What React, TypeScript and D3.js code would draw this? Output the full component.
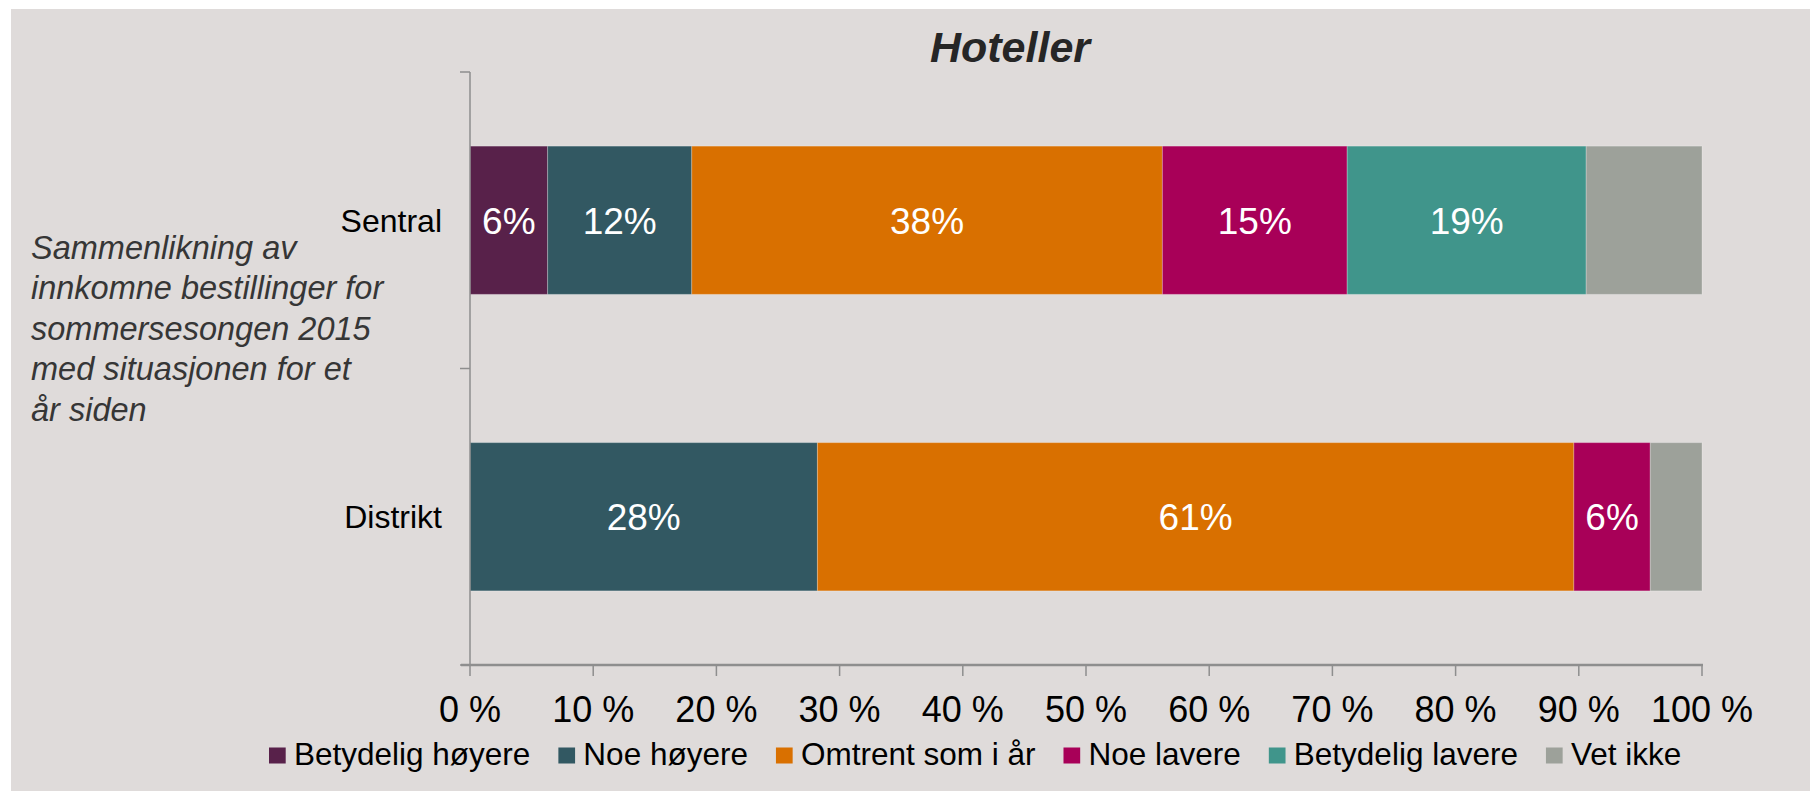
import React from "react";
import * as d3 from "d3";

const categories = ["Sentral", "Distrikt"];
const seriesNames = [
  "Betydelig høyere",
  "Noe høyere",
  "Omtrent som i år",
  "Noe lavere",
  "Betydelig lavere",
  "Vet ikke",
];
// values per series, in category order [Sentral, Distrikt]
const betydeligHoyere = [6.3, 0];
const noeHoyere = [11.7, 28.2];
const omtrent = [38.2, 61.4];
const noeLavere = [15.0, 6.2];
const betydeligLavere = [19.4, 0];
const vetIkke = [9.4, 4.2];
const seriesValues = [betydeligHoyere, noeHoyere, omtrent, noeLavere, betydeligLavere, vetIkke];
const seriesColors = ["#58214A", "#325862", "#D97000", "#A80058", "#40958B", "#9DA19A"];
const seriesShowLabels = [true, true, true, true, true, false];
const xTicks = [0, 10, 20, 30, 40, 50, 60, 70, 80, 90, 100];
const chartTitle = "Hoteller";
const yTitleLines = [
  "Sammenlikning av",
  "innkomne bestillinger for",
  "sommersesongen 2015",
  "med situasjonen for et",
  "år siden",
];

const FONT = "'Liberation Sans', Arial, Helvetica, sans-serif";

function measure(text: string, font: string): number {
  const c = document.createElement("canvas");
  const ctx = c.getContext("2d");
  if (!ctx) return text.length * 15;
  ctx.font = font;
  return ctx.measureText(text).width;
}

export default function App() {
  const W = 1810;
  const H = 791;
  const x = d3.scaleLinear().domain([0, 100]).range([470, 1702]);
  const y = d3
    .scaleBand<string>()
    .domain(categories)
    .range([72, 665])
    .paddingInner(0.5)
    .paddingOuter(0.25);

  const rows = categories.map((c, i) => {
    const r: any = { cat: c };
    seriesNames.forEach((s, j) => (r[s] = seriesValues[j][i]));
    return r;
  });
  const stack = d3.stack<any>().keys(seriesNames)(rows);

  const step = y.step();
  const yTickPos = [72, 72 + step, 665];

  // legend layout
  const legendFontSize = 31.5;
  const legendFont = `${legendFontSize}px ${FONT}`;
  let lx = 269;
  const legendItems = seriesNames.map((name, i) => {
    const item = { name, color: seriesColors[i], x: lx };
    lx += 17 + 8 + measure(name, legendFont) + 28;
    return item;
  });

  return (
    <svg
      width={W}
      height={H}
      style={{ position: "absolute", left: 0, top: 0, background: "#ffffff" }}
      fontFamily={FONT}
    >
      <rect x={11} y={9} width={W - 11} height={H - 9} fill="#DFDBDA" />
      <text
        x={1010}
        y={62}
        textAnchor="middle"
        fontSize={43}
        fontWeight="bold"
        fontStyle="italic"
        fill="#262626"
      >
        {chartTitle}
      </text>

      {/* y title */}
      <text fontSize={32.5} fontStyle="italic" fill="#363636">
        {yTitleLines.map((l, i) => (
          <tspan key={i} x={31} y={259 + i * 40.4}>
            {l}
          </tspan>
        ))}
      </text>

      {/* bars */}
      {stack.map((layer, j) =>
        layer.map((d, i) => {
          const w = x(d[1]) - x(d[0]);
          if (w <= 0) return null;
          return (
            <rect
              key={`${j}-${i}`}
              x={x(d[0])}
              y={y(categories[i])}
              width={w}
              height={y.bandwidth()}
              fill={seriesColors[j]}
              stroke="rgba(255,255,255,0.25)"
              strokeWidth={1}
            />
          );
        })
      )}
      {stack.map((layer, j) =>
        layer.map((d, i) => {
          const v = d[1] - d[0];
          if (!seriesShowLabels[j] || v <= 0) return null;
          return (
            <text
              key={`l${j}-${i}`}
              x={(x(d[0]) + x(d[1])) / 2}
              y={(y(categories[i]) as number) + y.bandwidth() / 2}
              dy="0.37em"
              textAnchor="middle"
              fontSize={37}
              fill="#ffffff"
            >
              {Math.round(v) + "%"}
            </text>
          );
        })
      )}

      {/* y axis */}
      <line x1={470} x2={470} y1={72} y2={665} stroke="#8E8E8E" strokeWidth={1.5} />
      {yTickPos.map((p, i) => (
        <line key={i} x1={460} x2={470} y1={p} y2={p} stroke="#8E8E8E" strokeWidth={1.5} />
      ))}
      {categories.map((c) => (
        <text
          key={c}
          x={442}
          y={(y(c) as number) + y.bandwidth() / 2}
          dy="0.36em"
          textAnchor="end"
          fontSize={32}
          fill="#000000"
        >
          {c}
        </text>
      ))}

      {/* x axis */}
      <line x1={461} x2={1703} y1={665} y2={665} stroke="#8E8E8E" strokeWidth={2.5} />
      {xTicks.map((t) => (
        <g key={t}>
          <line x1={x(t)} x2={x(t)} y1={665} y2={676} stroke="#8E8E8E" strokeWidth={1.5} />
          <text x={x(t)} y={722} textAnchor="middle" fontSize={36} fill="#000000">
            {t + " %"}
          </text>
        </g>
      ))}

      {/* legend */}
      {legendItems.map((it) => (
        <g key={it.name}>
          <rect x={it.x} y={747.5} width={16.7} height={16} fill={it.color} />
          <text x={it.x + 25} y={765} fontSize={legendFontSize} fill="#000000">
            {it.name}
          </text>
        </g>
      ))}
    </svg>
  );
}
